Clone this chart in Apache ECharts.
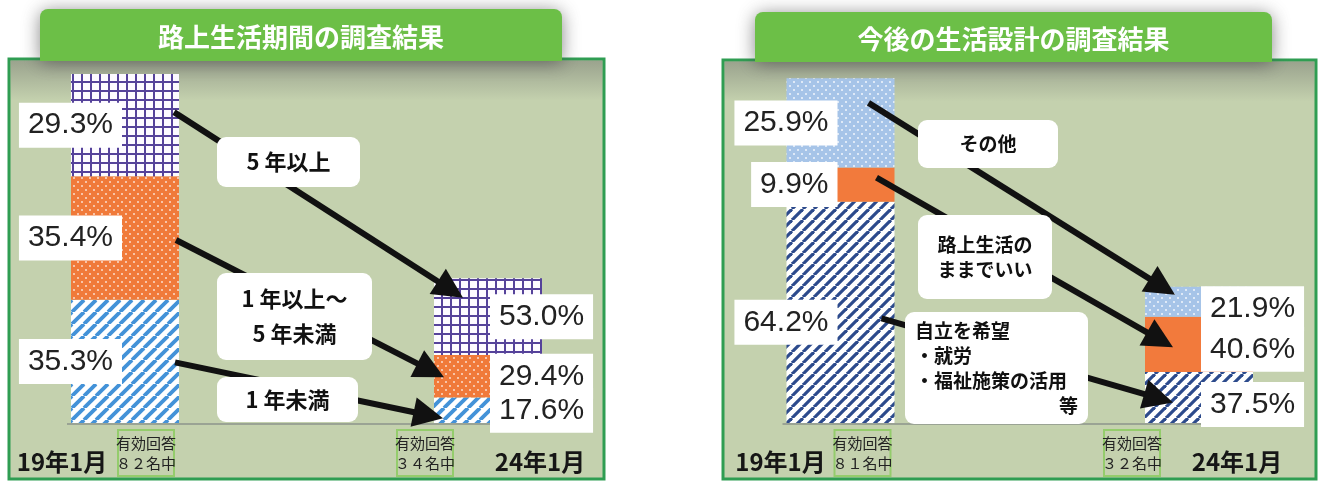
<!DOCTYPE html>
<html><head><meta charset="utf-8">
<script src="https://cdn.jsdelivr.net/npm/echarts@6/dist/echarts.min.js"></script>
<style>html,body{margin:0;padding:0;background:#fff}#c{width:1320px;height:481px}</style>
</head><body><div id="c"></div>
<script>
// ---------- data ----------
const groups = ['19年1月', '24年1月'];
const periodTitle = '路上生活期間の調査結果';
const periodNames = ['1 年未満', '1 年以上～\n5 年未満', '5 年以上'];   // bottom -> top
const periodPct19 = [35.3, 35.4, 29.3];
const periodPct24 = [17.6, 29.4, 53.0];
const periodN = [82, 34];
const planTitle = '今後の生活設計の調査結果';
const planNames = ['自立を希望\n・就労\n・福祉施策の活用\n等', '路上生活の\nままでいい', 'その他']; // bottom -> top
const planPct19 = [64.2, 9.9, 25.9];
const planPct24 = [37.5, 40.6, 21.9];
const planN = [81, 32];

// ---------- patterns ----------
function pat(w, h, draw) { const c = document.createElement('canvas'); c.width = w; c.height = h; draw(c.getContext('2d'), w, h); return { image: c, repeat: 'repeat' }; }
const gridPat = pat(9, 9, g => { g.fillStyle = '#fcfaff'; g.fillRect(0, 0, 9, 9); g.fillStyle = '#55429a'; g.fillRect(0, 0, 9, 2); g.fillRect(0, 0, 2, 9); });
const dotPat = (bg, dot) => pat(8, 8, g => { g.fillStyle = bg; g.fillRect(0, 0, 8, 8); g.fillStyle = dot; g.beginPath(); g.arc(2, 2, 1, 0, 7); g.fill(); g.beginPath(); g.arc(6, 6, 1, 0, 7); g.fill(); });
const stripePat = (fg, s, lw) => pat(s, s, g => { g.fillStyle = '#fff'; g.fillRect(0, 0, s, s); g.strokeStyle = fg; g.lineWidth = lw; for (const o of [-s, 0, s]) { g.beginPath(); g.moveTo(o, s); g.lineTo(o + s, 0); g.stroke(); } });

const periodColors = [stripePat('#4392d8', 12, 3.8), dotPat('#f07a3a', 'rgba(255,255,255,0.75)'), gridPat];
const planColors = [stripePat('#2c4a8c', 11, 3.2), '#f27a3c', dotPat('#a6c4e8', 'rgba(255,255,255,0.85)')];

// ---------- layout ----------
const BAR_W = 108;
const panels = [
  { frame: [9, 59, 595, 420], tab: [40, 9, 522, 52], title: periodTitle, grid: { left: 125, width: 363 },
    names: periodNames, p19: periodPct19, p24: periodPct24, n: periodN, colors: periodColors,
    lblDy: [[0, 0, 0], [0, 0, 0]], catDx: [-63, 52], boxDx: [21, -63],
    arrows: [
      { tail: [-4, 1], tip: [9, 8] }, { tail: [-3, 2], tip: [10, 1] }, { tail: [-5, -13], tip: [29, -19] }],
    notes: [{ x: 217, y: 377, w: 141, h: 45 }, { x: 217, y: 273, w: 155, h: 87 }, { x: 217, y: 137, w: 143, h: 50 }],
    noteFont: 22, noteLH: 35 },
  { frame: [723, 60, 593, 419], tab: [755, 12, 517, 50], title: planTitle, grid: { left: 840.5, width: 358.5 },
    names: planNames, p19: planPct19, p24: planPct24, n: planN, colors: planColors,
    lblDy: [[10, 0, 0], [7, 5, 7]], catDx: [-60, 38], boxDx: [22, -67],
    arrows: [{ tail: [-13, 6], tip: [28, 5] }, { tail: [-18, -7], tip: [28, 3] }, { tail: [-26, -20], tip: [30, -7] }],
    notes: [{ x: 905, y: 312, w: 183, h: 112, left: true }, { x: 918, y: 215, w: 134, h: 84 }, { x: 918, y: 120, w: 140, h: 48 }],
    noteFont: 19, noteLH: 25 }
];

const fw = s => String(s).replace(/\d/g, d => String.fromCharCode(d.charCodeAt(0) + 0xFEE0));

const series = [];
panels.forEach((P, gi) => {
  P.names.forEach((name, k) => {
    series.push({
      type: 'bar', name: name, xAxisIndex: gi, yAxisIndex: gi, stack: 's' + gi, barWidth: BAR_W, clip: false,
      itemStyle: { color: P.colors[k] }, silent: true,
      data: [P.p19[k], P.p24[k]].map((p, i) => ({
        value: p / 100 * P.n[i],
        label: {
          show: true, formatter: p.toFixed(1) + '%',
          position: i === 0 ? [51, '50%'] : [56, '50%'],
          align: i === 0 ? 'right' : 'left', verticalAlign: 'middle',
          offset: [0, P.lblDy[i][k]],
          backgroundColor: '#fff', padding: [7, 9, 7, 9],
          fontFamily: 'Liberation Sans', fontSize: 30, lineHeight: 31, color: '#222'
        }
      }))
    });
  });
});

const chart = echarts.init(document.getElementById('c'));
chart.setOption({
  animation: false,
  backgroundColor: '#ffffff',
  grid: panels.map(P => ({ left: P.grid.left, width: P.grid.width, top: 74, height: 349 })),
  xAxis: panels.map((P, gi) => ({ type: 'category', gridIndex: gi, data: groups, boundaryGap: false, show: false })),
  yAxis: panels.map((P, gi) => ({ type: 'value', gridIndex: gi, min: 0, max: 82, show: false })),
  series: series
});

// ---------- annotations ----------
const G = [];
function arrow(x1, y1, x2, y2) {
  const dx = x2 - x1, dy = y2 - y1, L = Math.hypot(dx, dy), ux = dx / L, uy = dy / L, hl = 30, hw = 15;
  const bx = x2 - ux * hl, by = y2 - uy * hl;
  G.push({ type: 'line', z: 10, shape: { x1: x1, y1: y1, x2: bx + ux * 3, y2: by + uy * 3 }, style: { stroke: '#111', lineWidth: 6 } });
  G.push({ type: 'polygon', z: 10, shape: { points: [[x2, y2], [bx - uy * hw, by + ux * hw], [bx + uy * hw, by - ux * hw]] }, style: { fill: '#111' } });
}
panels.forEach((P, gi) => {
  const [fx, fy, fwid, fh] = P.frame, [tx, ty, tw, th] = P.tab;
  G.push({ type: 'rect', z: 0, shape: { x: fx, y: fy, width: fwid, height: fh }, style: { fill: '#c4d1ae', stroke: '#2f9d52', lineWidth: 3 } });
  G.push({ type: 'rect', z: 0, shape: { x: fx + 1.5, y: fy + 1.5, width: fwid - 3, height: 40 },
    style: { fill: new echarts.graphic.LinearGradient(0, 0, 0, 1, [{ offset: 0, color: 'rgba(120,125,115,0.55)' }, { offset: 1, color: 'rgba(120,125,115,0)' }]) } });
  G.push({ type: 'rect', z: 1, shape: { x: tx, y: ty, width: tw, height: th, r: [8, 8, 0, 0] },
    style: { fill: '#6cbf47', shadowBlur: 18, shadowColor: 'rgba(70,70,70,0.65)', shadowOffsetY: 2 } });
  G.push({ type: 'text', z: 2, style: { text: P.title, x: tx + tw / 2, y: ty + th / 2 + 2, align: 'center', verticalAlign: 'middle',
    fill: '#fff', font: 'bold 26px "Noto Sans CJK JP"' } });

  const cx = [0, 1].map(i => chart.convertToPixel({ gridIndex: gi }, [i, 0])[0]);
  const yb = chart.convertToPixel({ gridIndex: gi }, [0, 0])[1];
  const yOf = v => chart.convertToPixel({ gridIndex: gi }, [0, v])[1];
  G.push({ type: 'line', z: 1, shape: { x1: cx[0] - BAR_W / 2 - 4, y1: yb + 1, x2: cx[1] + BAR_W / 2, y2: yb + 1 }, style: { stroke: '#9aa394', lineWidth: 2 } });
  [0, 1].forEach(i => {
    G.push({ type: 'text', z: 5, style: { text: groups[i], x: cx[i] + P.catDx[i], y: 462, align: 'center', verticalAlign: 'middle',
      fill: '#161616', font: 'bold 24px "Noto Sans CJK JP"' } });
    const bxc = cx[i] + P.boxDx[i];
    G.push({ type: 'rect', z: 5, shape: { x: bxc - 28, y: 430, width: 56, height: 46 }, style: { fill: 'rgba(0,0,0,0)', stroke: '#94cc6c', lineWidth: 2 } });
    G.push({ type: 'text', z: 5, style: { text: '有効回答\n' + fw(P.n[i]) + '名中', x: bxc, y: 453, align: 'center', verticalAlign: 'middle',
      fill: '#222', font: '15px "Noto Sans CJK JP"', lineHeight: 20 } });
  });
  const cum = [[0], [0]];
  P.names.forEach((_, k) => { cum[0].push(cum[0][k] + P.p19[k] / 100 * P.n[0]); cum[1].push(cum[1][k] + P.p24[k] / 100 * P.n[1]); });
  P.names.forEach((_, k) => {
    const m1 = (yOf(cum[0][k]) + yOf(cum[0][k + 1])) / 2, m2 = (yOf(cum[1][k]) + yOf(cum[1][k + 1])) / 2;
    const A = P.arrows[k];
    arrow(cx[0] + BAR_W / 2 + A.tail[0], m1 + A.tail[1], cx[1] - BAR_W / 2 + A.tip[0], m2 + A.tip[1]);
  });
  P.names.forEach((name, k) => {
    const B = P.notes[k];
    G.push({ type: 'rect', z: 12, shape: { x: B.x, y: B.y, width: B.w, height: B.h, r: 9 }, style: { fill: '#fff' } });
    const lines = name.split('\n');
    const y0 = B.y + B.h / 2 - (lines.length - 1) * P.noteLH / 2;
    lines.forEach((ln, j) => {
      const last = B.left && j === lines.length - 1;
      G.push({ type: 'text', z: 13, style: { text: ln,
        x: B.left ? (last ? B.x + B.w - 10 : B.x + 10) : B.x + B.w / 2, y: y0 + j * P.noteLH,
        align: B.left ? (last ? 'right' : 'left') : 'center', verticalAlign: 'middle',
        fill: '#111', font: 'bold ' + P.noteFont + 'px "Noto Sans CJK JP"' } });
    });
  });
});
chart.setOption({ graphic: { elements: G } });
</script></body></html>
